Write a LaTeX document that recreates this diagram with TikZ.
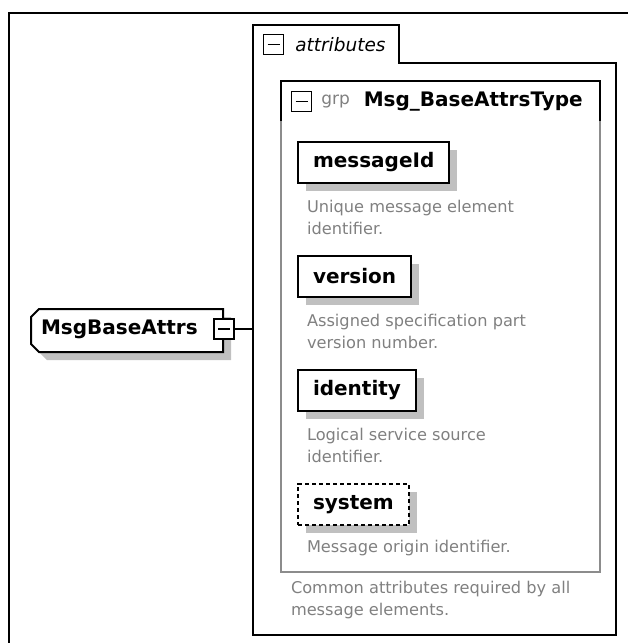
\documentclass[tikz,border=0pt]{standalone}
\usepackage{fontspec}
\setmainfont{DejaVu Sans}
\usetikzlibrary{positioning, shadows}

\definecolor{shadowgray}{RGB}{192,192,192}
\definecolor{note}{RGB}{128,128,128}
\definecolor{grpline}{RGB}{140,140,140}

\begin{document}
\begin{tikzpicture}[x=1pt, y=-1pt, line width=2pt,
  elem/.style={draw, fill=white, font=\fontsize{20}{22}\selectfont\bfseries, inner xsep=15pt, minimum height=41pt, anchor=north west, drop shadow={shadow xshift=8pt, shadow yshift=-8pt, fill=shadowgray, opacity=1}},
  optional/.style={elem, dash pattern=on 4pt off 3pt},
  doc/.style={text=note, font=\fontsize{16.2}{22}\selectfont, align=left, anchor=west, inner sep=0pt},
  toggle/.style={draw, fill=white, line width=1.5pt, minimum size=20pt, inner sep=0pt, path picture={\draw[line width=1.5pt] ([xshift=4pt]path picture bounding box.west) -- ([xshift=-4pt]path picture bounding box.east);}}]
		\useasboundingbox (0,0) rectangle (628,643);
		\draw (9,643) -- (9,12.5) -- (628,12.5);
		
		\fill[shadowgray] (47,317) -- (231,317) -- (231,360) -- (47,360) -- (39,352) -- (39,325) -- cycle;
		\draw[fill=white] (39,309) -- (223,309) -- (223,352) -- (39,352) -- (31,344) -- (31,317) -- cycle;
		\node[anchor=west, inner sep=0pt, font=\fontsize{20}{22}\selectfont\bfseries] (root) at (40,329) {MsgBaseAttrs};
		\node[toggle] (rootsw) at (224,329) {};
		
		\draw (253,635) -- (253,24.5) -- (399,24.5) -- (399,62.5) -- (616,62.5) -- (616,635) -- cycle;
		\coordinate (attrin) at (253,329);
		\node[toggle] (attrsw) at (273.5,44.5) {};
		\node[right=10pt of attrsw, inner sep=0pt, font=\fontsize{18.5}{22}\selectfont\itshape] (attrlbl) {attributes};
		
		\draw[grpline] (281,81) rectangle (600,572);
		\draw (281,121) -- (281,81) -- (600,81) -- (600,121);
		\node[toggle] (grpsw) at (301.5,101.5) {};
		\node[right=8pt of grpsw, inner sep=0pt, text=note, font=\fontsize{17}{22}\selectfont] (grplbl) {grp};
		\node[right=12pt of grplbl, inner sep=0pt, font=\fontsize{20}{22}\selectfont\bfseries] (grpname) {Msg\_BaseAttrsType};
		
		\node[elem] (messageId) at (297,141) {messageId};
		\node[doc] (messageIdDoc) at (306,217) {Unique message element\\identifier.};
		\node[elem] (version) at (297,254.5) {version};
		\node[doc] (versionDoc) at (306,331) {Assigned specification part\\version number.};
		\node[elem] (identity) at (297,368.5) {identity};
		\node[doc] (identityDoc) at (306,445.5) {Logical service source\\identifier.};
		\node[optional] (system) at (297,483) {system};
		\node[doc] (systemDoc) at (306,548) {Message origin identifier.};
		\node[doc] (attrDoc) at (290,600.5) {Common attributes required by all\\message elements.};
		
		\draw (rootsw.east) -- (attrin);
	\end{tikzpicture}
\end{document}
